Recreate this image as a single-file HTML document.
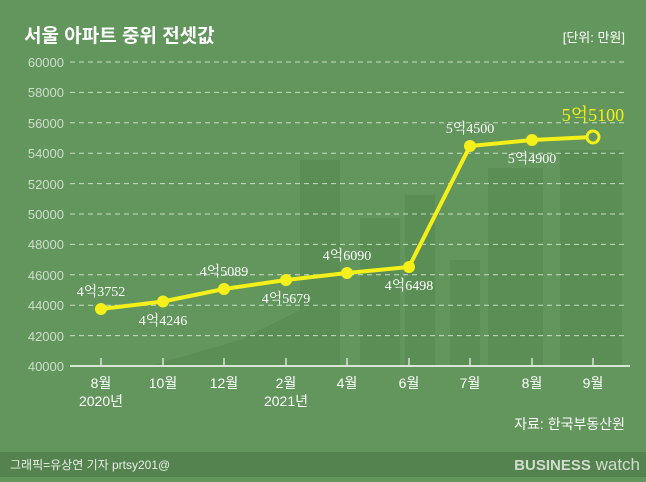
<!DOCTYPE html>
<html><head><meta charset="utf-8"><style>
body{margin:0;width:646px;height:477px;overflow:hidden;background:#62965c;font-family:"Liberation Sans","Noto Sans CJK KR",sans-serif;}
</style></head><body>
<svg width="646" height="477" viewBox="0 0 646 477" xmlns="http://www.w3.org/2000/svg">
<rect width="646" height="477" fill="#62965c"/>
<rect y="452" width="646" height="25" fill="#54834f"/>
<g fill="#5a8e54">
<rect x="300" y="160" width="40" height="206"/>
<rect x="360" y="218" width="40" height="148"/>
<rect x="405" y="195" width="30" height="171"/>
<rect x="450" y="260" width="30" height="106"/>
<rect x="488" y="168" width="55" height="198"/>
<rect x="560" y="150" width="62" height="216"/>
<polygon points="150,366 240,340 300,310 300,366"/>
</g>
<text x="24" y="42" font-size="19" font-weight="bold" fill="#fff">서울 아파트 중위 전셋값</text>
<text x="625" y="42" font-size="13" fill="#fff" text-anchor="end">[단위: 만원]</text>
<g stroke="#c9dcc5" stroke-width="1" stroke-dasharray="5,4">
<line x1="70" x2="626" y1="62" y2="62"/><line x1="70" x2="626" y1="92.4" y2="92.4"/><line x1="70" x2="626" y1="122.8" y2="122.8"/><line x1="70" x2="626" y1="153.2" y2="153.2"/><line x1="70" x2="626" y1="183.6" y2="183.6"/><line x1="70" x2="626" y1="214" y2="214"/><line x1="70" x2="626" y1="244.4" y2="244.4"/><line x1="70" x2="626" y1="274.8" y2="274.8"/><line x1="70" x2="626" y1="305.2" y2="305.2"/><line x1="70" x2="626" y1="335.6" y2="335.6"/>
</g>
<line x1="70" x2="630" y1="366" y2="366" stroke="#d8e4d5" stroke-width="2"/>
<g stroke="#d8e4d5" stroke-width="1.5">
<line x1="101" x2="101" y1="358" y2="366"/><line x1="163" x2="163" y1="358" y2="366"/><line x1="224" x2="224" y1="358" y2="366"/><line x1="286" x2="286" y1="358" y2="366"/><line x1="347" x2="347" y1="358" y2="366"/><line x1="409" x2="409" y1="358" y2="366"/><line x1="470" x2="470" y1="358" y2="366"/><line x1="532" x2="532" y1="358" y2="366"/><line x1="593" x2="593" y1="358" y2="366"/>
</g>
<g font-size="13" fill="#d0dccd" text-anchor="end">
<text x="64" y="67">60000</text><text x="64" y="97">58000</text><text x="64" y="128">56000</text><text x="64" y="158">54000</text><text x="64" y="189">52000</text><text x="64" y="219">50000</text><text x="64" y="249">48000</text><text x="64" y="280">46000</text><text x="64" y="310">44000</text><text x="64" y="341">42000</text><text x="64" y="371">40000</text>
</g>
<g font-size="14" fill="#fff" text-anchor="middle">
<text x="101" y="388">8월</text><text x="101" y="406">2020년</text><text x="163" y="388">10월</text><text x="224" y="388">12월</text><text x="286" y="388">2월</text><text x="286" y="406">2021년</text><text x="347" y="388">4월</text><text x="409" y="388">6월</text><text x="470" y="388">7월</text><text x="532" y="388">8월</text><text x="593" y="388">9월</text>
</g>
<text x="625" y="429" font-size="14" fill="#fff" text-anchor="end">자료: 한국부동산원</text>
<text x="10" y="469" font-size="12" fill="#e8efe6">그래픽=유상연 기자 prtsy201@</text>
<text x="640" y="470" font-size="15" fill="#d0dccd" text-anchor="end"><tspan font-weight="bold">BUSINESS</tspan><tspan font-size="17"> watch</tspan></text>
<polyline fill="none" stroke="#f5f01a" stroke-width="4" points="101,309 163,301.5 224,289 286,280 347,273 409,267 470,146 532,140 593,137"/>
<g fill="#f5f01a">
<circle cx="101" cy="309" r="6"/><circle cx="163" cy="301.5" r="6"/><circle cx="224" cy="289" r="6"/><circle cx="286" cy="280" r="6"/><circle cx="347" cy="273" r="6"/><circle cx="409" cy="267" r="6"/><circle cx="470" cy="146" r="6"/><circle cx="532" cy="140" r="6"/>
</g>
<circle cx="593" cy="137" r="6" fill="#62965c" stroke="#f5f01a" stroke-width="3"/>
<g font-family="'Liberation Serif','Noto Serif CJK SC',serif" font-size="14" fill="#fff" text-anchor="middle">
<text x="101" y="296">4억3752</text><text x="163" y="325">4억4246</text><text x="224" y="276">4억5089</text><text x="286" y="303">4억5679</text><text x="347" y="260">4억6090</text><text x="409" y="290">4억6498</text><text x="470" y="133">5억4500</text><text x="532" y="163">5억4900</text>
</g>
<text x="593" y="121" font-family="'Liberation Serif','Noto Serif CJK SC',serif" font-size="18" fill="#f5f01a" text-anchor="middle">5억5100</text>
</svg>
</body></html>
